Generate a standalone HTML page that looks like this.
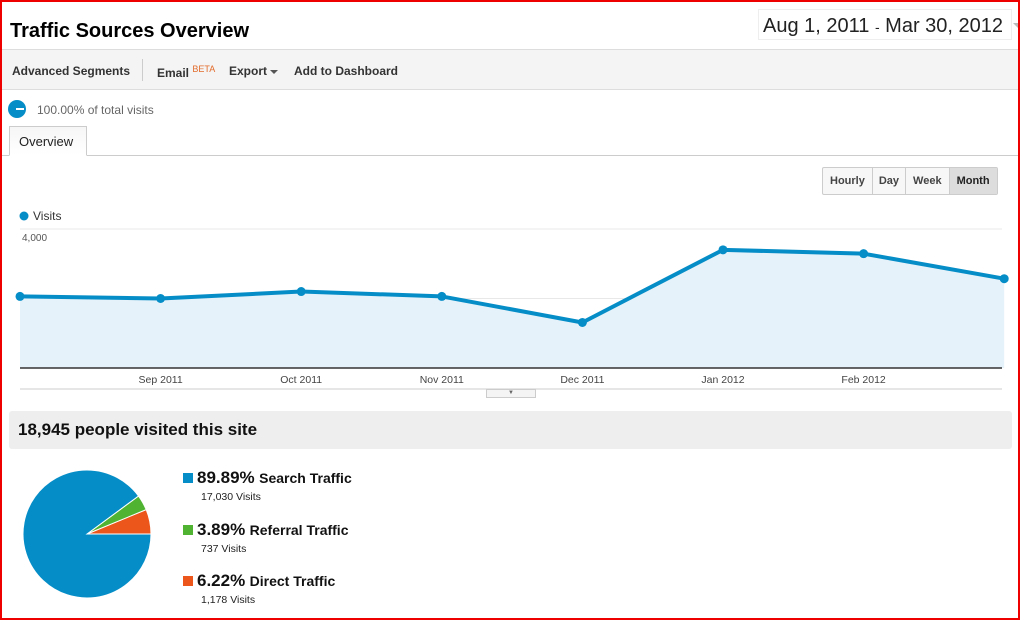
<!DOCTYPE html>
<html><head><meta charset="utf-8">
<style>
*{box-sizing:border-box;margin:0;padding:0}
body{width:1020px;height:620px;overflow:hidden;background:#fff;font-family:"Liberation Sans",Arial,sans-serif;position:relative}
.frame{position:absolute;left:0;top:0;width:1020px;height:620px;border:2px solid #e00;pointer-events:none;z-index:10}
.abs{position:absolute}
</style></head><body>
<div class="frame"></div>
<div class="abs" style="left:10px;top:20px;font-size:20px;font-weight:bold;color:#000">Traffic Sources Overview</div>
<div class="abs" style="left:758px;top:9px;width:254px;height:31px;border:1px solid #eee;font-size:20px;color:#222;padding:5px 0 0 4px;white-space:nowrap">Aug 1, 2011 <span style="font-size:14px">-</span> Mar 30, 2012 <span style="display:inline-block;width:0;height:0;border-left:7px solid transparent;border-right:7px solid transparent;border-top:7px solid #bbb;vertical-align:middle;margin-left:4px"></span></div>
<div class="abs" style="left:2px;top:49px;width:1016px;height:41px;background:#f4f4f4;border-top:1px solid #ddd;border-bottom:1px solid #ddd;font-size:12px;font-weight:bold;color:#333">
 <span class="abs" style="left:10px;top:14px">Advanced Segments</span>
 <span class="abs" style="left:140px;top:9px;width:1px;height:22px;background:#ccc"></span>
 <span class="abs" style="left:155px;top:14px">Email <sup style="color:#e26b2b;font-size:9px;font-weight:normal">BETA</sup></span>
 <span class="abs" style="left:227px;top:14px">Export <span style="display:inline-block;border-left:4px solid transparent;border-right:4px solid transparent;border-top:4px solid #555;vertical-align:middle"></span></span>
 <span class="abs" style="left:292px;top:14px">Add to Dashboard</span>
</div>
<div class="abs" style="left:8px;top:100px;width:18px;height:18px;border-radius:50%;background:#058dc7"><div style="position:absolute;left:8px;top:8px;width:8px;height:2px;background:#fff"></div></div>
<div class="abs" style="left:37px;top:103px;font-size:12px;color:#666">100.00% of total visits</div>
<div class="abs" style="left:2px;top:155px;width:1016px;height:1px;background:#ccc"></div>
<div class="abs" style="left:9px;top:126px;width:78px;height:30px;border:1px solid #ccc;border-bottom:1px solid #fff;background:#fff;font-size:13px;color:#222;padding:7px 0 0 9px;background:linear-gradient(#f6f6f6,#fff)">Overview</div>
<div class="abs" style="left:822px;top:167px;height:28px;display:flex;border:1px solid #ccc;border-radius:2px;font-size:11px;font-weight:bold;color:#444;background:#f7f7f7">
 <div style="padding:7px 7px;border-right:1px solid #ccc">Hourly</div>
 <div style="padding:7px 6px;border-right:1px solid #ccc">Day</div>
 <div style="padding:7px 7px;border-right:1px solid #ccc">Week</div>
 <div style="padding:7px 7px;background:#ddd;color:#222">Month</div>
</div>
<svg class="abs" style="left:0;top:200px" width="1020" height="200" id="chart"></svg>
<div class="abs" style="left:486px;top:389px;width:50px;height:9px;border:1px solid #ccc;background:#f4f4f4;font-size:6px;color:#666;text-align:center;line-height:7px">▼</div>
<div class="abs" style="left:9px;top:411px;width:1003px;height:38px;background:#eee;border-radius:3px;font-size:17px;font-weight:bold;color:#111;padding:9px 0 0 9px">18,945 people visited this site</div>
<svg class="abs" style="left:0;top:450px" width="180" height="170" id="pie"></svg>
<div class="abs" style="left:183px;top:468px" id="legend"></div>
<script>
var months=["Aug 2011","Sep 2011","Oct 2011","Nov 2011","Dec 2011","Jan 2012","Feb 2012","Mar 2012"];
var visits=[2060,2000,2200,2060,1310,3400,3290,2570];
var yTicks=[2000,4000];
var yTickLabels=["2,000","4,000"];
var sliceNames=["Search Traffic","Referral Traffic","Direct Traffic"];
var slicePcts=[89.89,3.89,6.22];
var sliceVisits=["17,030","737","1,178"];
var sliceColors=["#058dc7","#50b432","#ed561b"];
var NS="http://www.w3.org/2000/svg";
function mk(p,t,a){var e=document.createElementNS(NS,t);for(var k in a)e.setAttribute(k,a[k]);p.appendChild(e);return e;}
var svg=document.getElementById("chart");
function xs(i){return 20+i*140.6;}
function ys(v){return 168-v*(139/4000);}
var lg=mk(svg,"circle",{cx:24,cy:16,r:4.5,fill:"#058dc7"});

var lt=mk(svg,"text",{x:33,y:20,"font-size":12,fill:"#333","font-family":"Liberation Sans, sans-serif"});lt.textContent="Visits";

yTicks.forEach(function(t,i){
 var g=mk(svg,"line",{x1:20,x2:1002,y1:ys(t),y2:ys(t),stroke:"#e8e8e8"});
 
 var tx=mk(svg,"text",{x:22,y:ys(t)+12,"font-size":10,fill:"#555","font-family":"Liberation Sans, sans-serif"});tx.textContent=yTickLabels[i];
 
});
var pts=visits.map(function(v,i){return xs(i)+","+ys(v);});
var area=mk(svg,"polygon",{points:xs(0)+","+ys(0)+" "+pts.join(" ")+" "+xs(visits.length-1)+","+ys(0),fill:"#e6f2f9"});

var ax=mk(svg,"line",{x1:20,x2:1002,y1:ys(0),y2:ys(0),stroke:"#333","stroke-width":1.5});

var bl=mk(svg,"line",{x1:20,x2:1002,y1:189,y2:189,stroke:"#ccc"});

var ln=mk(svg,"polyline",{points:pts.join(" "),fill:"none",stroke:"#058dc7","stroke-width":4,"stroke-linejoin":"round"});

visits.forEach(function(v,i){
 var c=mk(svg,"circle",{cx:xs(i),cy:ys(v),r:4.5,fill:"#058dc7"});
 
 if(i>0&&i<7){var t=mk(svg,"text",{x:xs(i),y:183,"font-size":10.5,fill:"#444","text-anchor":"middle","font-family":"Liberation Sans, sans-serif"});t.textContent=months[i];
 }
});
var pie=document.getElementById("pie");
var cx=87,cy=84,r=64;
var order=[2,1,0],a0=0;
order.forEach(function(k){
 var a1=a0+slicePcts[k]/100*2*Math.PI;
 var x0=cx+r*Math.cos(a0),y0=cy-r*Math.sin(a0),x1=cx+r*Math.cos(a1),y1=cy-r*Math.sin(a1);
 var large=(a1-a0)>Math.PI?1:0;
 var p=mk(pie,"path",{d:"M"+cx+","+cy+" L"+x0+","+y0+" A"+r+","+r+" 0 "+large+" 0 "+x1+","+y1+" Z",fill:sliceColors[k],stroke:"#fff","stroke-width":1});
 
 a0=a1;
});
var leg=document.getElementById("legend");
sliceNames.forEach(function(n,i){
 var d=document.createElement("div");
 
 
 d.style.cssText="position:absolute;left:0;top:"+(i*51.5)+"px;white-space:nowrap";
 d.innerHTML='<span style="display:inline-block;width:10px;height:10px;background:'+sliceColors[i]+';margin-right:4px"></span><span style="font-size:17px;font-weight:bold;color:#111">'+slicePcts[i].toFixed(2)+'%</span> <span style="font-size:14px;font-weight:bold;color:#111">'+n+'</span><div style="font-size:10.5px;color:#222;margin:3px 0 0 18px">'+sliceVisits[i]+' Visits</div>';
 leg.appendChild(d);
});
</script>
</body></html>
